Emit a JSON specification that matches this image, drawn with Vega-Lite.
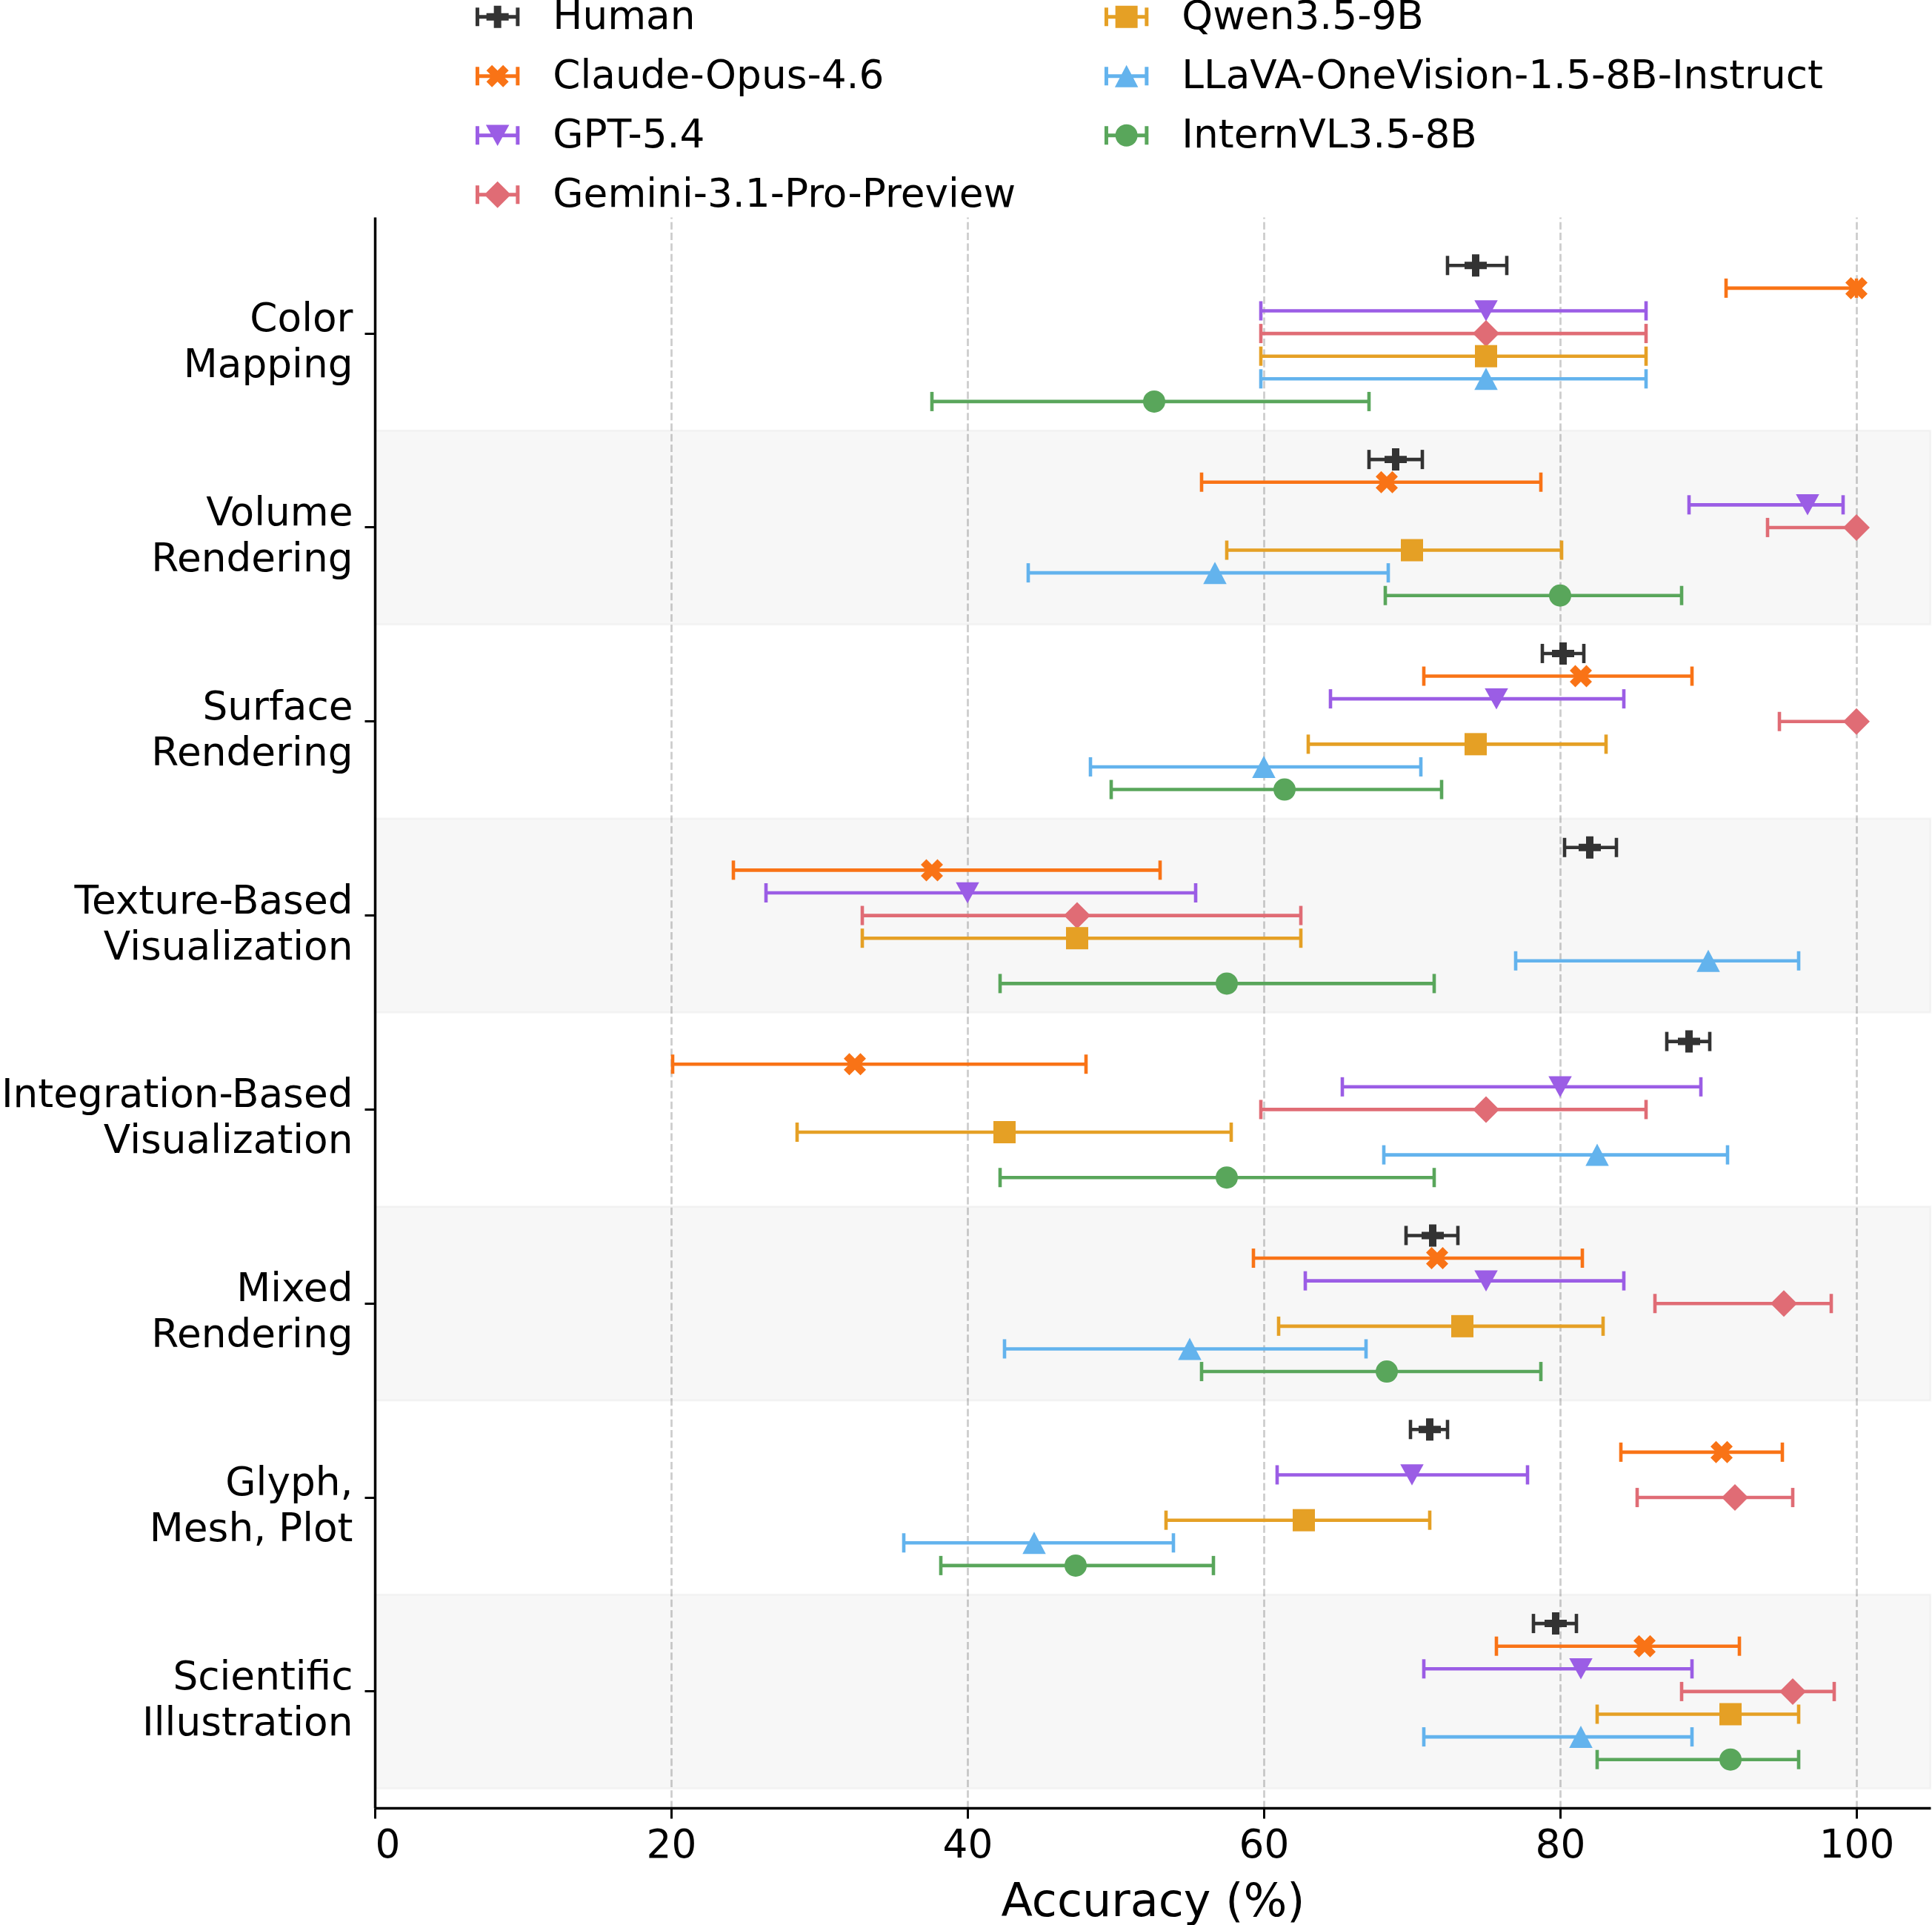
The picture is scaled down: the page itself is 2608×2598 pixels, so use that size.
{
  "$schema": "https://vega.github.io/schema/vega-lite/v6.json",
  "autosize": {"type": "none"},
  "width": 2100,
  "height": 2147,
  "padding": {"left": 506, "top": 293, "right": 2, "bottom": 158},
  "background": "white",
  "datasets": {
    "bands": [
      {"cat": "Volume Rendering"},
      {"cat": "Texture-Based Visualization"},
      {"cat": "Mixed Rendering"},
      {"cat": "Scientific Illustration"}
    ],
    "acc": [
      {"cat": "Color Mapping", "model": "Human", "acc": 74.3, "lo": 72.4, "hi": 76.4},
      {"cat": "Color Mapping", "model": "Claude-Opus-4.6", "acc": 100, "lo": 91.2, "hi": 100},
      {"cat": "Color Mapping", "model": "GPT-5.4", "acc": 75, "lo": 59.8, "hi": 85.8},
      {"cat": "Color Mapping", "model": "Gemini-3.1-Pro-Preview", "acc": 75, "lo": 59.8, "hi": 85.8},
      {"cat": "Color Mapping", "model": "Qwen3.5-9B", "acc": 75, "lo": 59.8, "hi": 85.8},
      {"cat": "Color Mapping", "model": "LLaVA-OneVision-1.5-8B-Instruct", "acc": 75, "lo": 59.8, "hi": 85.8},
      {"cat": "Color Mapping", "model": "InternVL3.5-8B", "acc": 52.6, "lo": 37.6, "hi": 67.1},
      {"cat": "Volume Rendering", "model": "Human", "acc": 68.9, "lo": 67.1, "hi": 70.7},
      {"cat": "Volume Rendering", "model": "Claude-Opus-4.6", "acc": 68.3, "lo": 55.8, "hi": 78.7},
      {"cat": "Volume Rendering", "model": "GPT-5.4", "acc": 96.7, "lo": 88.7, "hi": 99.1},
      {"cat": "Volume Rendering", "model": "Gemini-3.1-Pro-Preview", "acc": 100, "lo": 94.0, "hi": 100},
      {"cat": "Volume Rendering", "model": "Qwen3.5-9B", "acc": 70.0, "lo": 57.5, "hi": 80.1},
      {"cat": "Volume Rendering", "model": "LLaVA-OneVision-1.5-8B-Instruct", "acc": 56.7, "lo": 44.1, "hi": 68.4},
      {"cat": "Volume Rendering", "model": "InternVL3.5-8B", "acc": 80.0, "lo": 68.2, "hi": 88.2},
      {"cat": "Surface Rendering", "model": "Human", "acc": 80.2, "lo": 78.8, "hi": 81.6},
      {"cat": "Surface Rendering", "model": "Claude-Opus-4.6", "acc": 81.4, "lo": 70.8, "hi": 88.9},
      {"cat": "Surface Rendering", "model": "GPT-5.4", "acc": 75.7, "lo": 64.5, "hi": 84.3},
      {"cat": "Surface Rendering", "model": "Gemini-3.1-Pro-Preview", "acc": 100, "lo": 94.8, "hi": 100},
      {"cat": "Surface Rendering", "model": "Qwen3.5-9B", "acc": 74.3, "lo": 63.0, "hi": 83.1},
      {"cat": "Surface Rendering", "model": "LLaVA-OneVision-1.5-8B-Instruct", "acc": 60.0, "lo": 48.3, "hi": 70.6},
      {"cat": "Surface Rendering", "model": "InternVL3.5-8B", "acc": 61.4, "lo": 49.7, "hi": 72.0},
      {"cat": "Texture-Based Visualization", "model": "Human", "acc": 82.0, "lo": 80.3, "hi": 83.8},
      {"cat": "Texture-Based Visualization", "model": "Claude-Opus-4.6", "acc": 37.6, "lo": 24.2, "hi": 53.0},
      {"cat": "Texture-Based Visualization", "model": "GPT-5.4", "acc": 40.0, "lo": 26.4, "hi": 55.4},
      {"cat": "Texture-Based Visualization", "model": "Gemini-3.1-Pro-Preview", "acc": 47.4, "lo": 32.9, "hi": 62.5},
      {"cat": "Texture-Based Visualization", "model": "Qwen3.5-9B", "acc": 47.4, "lo": 32.9, "hi": 62.5},
      {"cat": "Texture-Based Visualization", "model": "LLaVA-OneVision-1.5-8B-Instruct", "acc": 90.0, "lo": 77.0, "hi": 96.1},
      {"cat": "Texture-Based Visualization", "model": "InternVL3.5-8B", "acc": 57.5, "lo": 42.2, "hi": 71.5},
      {"cat": "Integration-Based Visualization", "model": "Human", "acc": 88.7, "lo": 87.2, "hi": 90.1},
      {"cat": "Integration-Based Visualization", "model": "Claude-Opus-4.6", "acc": 32.4, "lo": 20.1, "hi": 48.0},
      {"cat": "Integration-Based Visualization", "model": "GPT-5.4", "acc": 80.0, "lo": 65.3, "hi": 89.5},
      {"cat": "Integration-Based Visualization", "model": "Gemini-3.1-Pro-Preview", "acc": 75.0, "lo": 59.8, "hi": 85.8},
      {"cat": "Integration-Based Visualization", "model": "Qwen3.5-9B", "acc": 42.5, "lo": 28.5, "hi": 57.8},
      {"cat": "Integration-Based Visualization", "model": "LLaVA-OneVision-1.5-8B-Instruct", "acc": 82.5, "lo": 68.1, "hi": 91.3},
      {"cat": "Integration-Based Visualization", "model": "InternVL3.5-8B", "acc": 57.5, "lo": 42.2, "hi": 71.5},
      {"cat": "Mixed Rendering", "model": "Human", "acc": 71.4, "lo": 69.6, "hi": 73.1},
      {"cat": "Mixed Rendering", "model": "Claude-Opus-4.6", "acc": 71.7, "lo": 59.3, "hi": 81.5},
      {"cat": "Mixed Rendering", "model": "GPT-5.4", "acc": 75.0, "lo": 62.8, "hi": 84.3},
      {"cat": "Mixed Rendering", "model": "Gemini-3.1-Pro-Preview", "acc": 95.1, "lo": 86.4, "hi": 98.3},
      {"cat": "Mixed Rendering", "model": "Qwen3.5-9B", "acc": 73.4, "lo": 61.0, "hi": 82.9},
      {"cat": "Mixed Rendering", "model": "LLaVA-OneVision-1.5-8B-Instruct", "acc": 55.0, "lo": 42.5, "hi": 66.9},
      {"cat": "Mixed Rendering", "model": "InternVL3.5-8B", "acc": 68.3, "lo": 55.8, "hi": 78.7},
      {"cat": "Glyph, Mesh, Plot", "model": "Human", "acc": 71.2, "lo": 69.9, "hi": 72.4},
      {"cat": "Glyph, Mesh, Plot", "model": "Claude-Opus-4.6", "acc": 90.9, "lo": 84.1, "hi": 95.0},
      {"cat": "Glyph, Mesh, Plot", "model": "GPT-5.4", "acc": 70.0, "lo": 60.9, "hi": 77.8},
      {"cat": "Glyph, Mesh, Plot", "model": "Gemini-3.1-Pro-Preview", "acc": 91.8, "lo": 85.2, "hi": 95.7},
      {"cat": "Glyph, Mesh, Plot", "model": "Qwen3.5-9B", "acc": 62.7, "lo": 53.4, "hi": 71.2},
      {"cat": "Glyph, Mesh, Plot", "model": "LLaVA-OneVision-1.5-8B-Instruct", "acc": 44.5, "lo": 35.7, "hi": 53.9},
      {"cat": "Glyph, Mesh, Plot", "model": "InternVL3.5-8B", "acc": 47.3, "lo": 38.2, "hi": 56.6},
      {"cat": "Scientific Illustration", "model": "Human", "acc": 79.7, "lo": 78.2, "hi": 81.1},
      {"cat": "Scientific Illustration", "model": "Claude-Opus-4.6", "acc": 85.7, "lo": 75.7, "hi": 92.1},
      {"cat": "Scientific Illustration", "model": "GPT-5.4", "acc": 81.4, "lo": 70.8, "hi": 88.9},
      {"cat": "Scientific Illustration", "model": "Gemini-3.1-Pro-Preview", "acc": 95.7, "lo": 88.2, "hi": 98.5},
      {"cat": "Scientific Illustration", "model": "Qwen3.5-9B", "acc": 91.5, "lo": 82.5, "hi": 96.1},
      {"cat": "Scientific Illustration", "model": "LLaVA-OneVision-1.5-8B-Instruct", "acc": 81.4, "lo": 70.8, "hi": 88.9},
      {"cat": "Scientific Illustration", "model": "InternVL3.5-8B", "acc": 91.5, "lo": 82.5, "hi": 96.1}
    ]
  },
  "data": {"name": "acc"},
  "encoding": {
    "y": {
      "field": "cat", "type": "nominal", "title": null,
      "scale": {
        "domain": ["Color Mapping", "Volume Rendering", "Surface Rendering", "Texture-Based Visualization", "Integration-Based Visualization", "Mixed Rendering", "Glyph, Mesh, Plot", "Scientific Illustration"],
        "paddingInner": 0, "paddingOuter": 0.1
      },
      "axis": {
        "labelExpr": "datum.label === 'Glyph, Mesh, Plot' ? ['Glyph,', 'Mesh, Plot'] : split(datum.label, ' ')"
      }
    },
    "yOffset": {"field": "model", "type": "nominal",
      "scale": {"domain": ["Human", "Claude-Opus-4.6", "GPT-5.4", "Gemini-3.1-Pro-Preview", "Qwen3.5-9B", "LLaVA-OneVision-1.5-8B-Instruct", "InternVL3.5-8B"], "paddingInner": 0, "paddingOuter": 0.778}}
  },
  "layer": [
    {
      "data": {"name": "bands"},
      "mark": {"type": "rect", "fill": "black", "fillOpacity": 0.031, "stroke": "black", "strokeOpacity": 0.03, "strokeWidth": 2.7},
      "encoding": {
        "x": {"datum": 0, "type": "quantitative"},
        "x2": {"datum": 105},
        "yOffset": null
      }
    },
    {
      "mark": {"type": "point", "filled": true, "opacity": 0, "size": 900, "strokeWidth": 0},
      "encoding": {
        "x": {"field": "acc", "type": "quantitative", "title": "Accuracy (%)",
              "scale": {"domain": [0, 105], "nice": false, "zero": false},
              "axis": {"values": [0, 20, 40, 60, 80, 100]}},
        "color": {
          "field": "model", "type": "nominal",
          "scale": {
            "domain": ["Human", "Claude-Opus-4.6", "GPT-5.4", "Gemini-3.1-Pro-Preview", "Qwen3.5-9B", "LLaVA-OneVision-1.5-8B-Instruct", "InternVL3.5-8B"],
            "range": ["#333333", "#F97316", "#9B5DE5", "#E06C75", "#E5A025", "#63B3ED", "#59A65B"]
          },
          "legend": {
            "title": null,
            "orient": "none",
            "legendX": 139,
            "legendY": -297,
            "columns": 2,
            "padding": 0,
            "symbolSize": 900,
            "symbolStrokeWidth": 0,
            "symbolOpacity": 1,
            "labelFont": "DejaVu Sans",
            "labelFontSize": 53.3,
            "labelColor": "#000000",
            "labelOffset": 48,
            "labelLimit": 3000,
            "columnPadding": 118,
            "rowPadding": 26
          }
        },
        "shape": {
          "field": "model", "type": "nominal",
          "scale": {
            "domain": ["Human", "Claude-Opus-4.6", "GPT-5.4", "Gemini-3.1-Pro-Preview", "Qwen3.5-9B", "LLaVA-OneVision-1.5-8B-Instruct", "InternVL3.5-8B"],
            "range": [
              "M-1.813,-0.167H1.813V0.167H-1.813ZM-1.98,-0.833H-1.647V0.833H-1.98ZM1.647,-0.833H1.98V0.833H1.647ZM-0.333,-1H0.333V-0.333H1V0.333H0.333V1H-0.333V0.333H-1V-0.333H-0.333Z",
              "M-1.813,-0.167H1.813V0.167H-1.813ZM-1.98,-0.833H-1.647V0.833H-1.98ZM1.647,-0.833H1.98V0.833H1.647ZM-0.5,-1L0,-0.5L0.5,-1L1,-0.5L0.5,0L1,0.5L0.5,1L0,0.5L-0.5,1L-1,0.5L-0.5,0L-1,-0.5Z",
              "M-1.813,-0.167H1.813V0.167H-1.813ZM-1.98,-0.833H-1.647V0.833H-1.98ZM1.647,-0.833H1.98V0.833H1.647ZM-1.05,-0.95L1.05,-0.95L0,0.95Z",
              "M-1.813,-0.167H1.813V0.167H-1.813ZM-1.98,-0.833H-1.647V0.833H-1.98ZM1.647,-0.833H1.98V0.833H1.647ZM-1.2,0L0,-1.2L1.2,0L0,1.2Z",
              "M-1.813,-0.167H1.813V0.167H-1.813ZM-1.98,-0.833H-1.647V0.833H-1.98ZM1.647,-0.833H1.98V0.833H1.647ZM-1,-1H1V1H-1Z",
              "M-1.813,-0.167H1.813V0.167H-1.813ZM-1.98,-0.833H-1.647V0.833H-1.98ZM1.647,-0.833H1.98V0.833H1.647ZM0,-1L1.05,1L-1.05,1Z",
              "M-1.813,-0.167H1.813V0.167H-1.813ZM-1.98,-0.833H-1.647V0.833H-1.98ZM1.647,-0.833H1.98V0.833H1.647ZM1,0A1,1,0,1,1,-1,0A1,1,0,1,1,1,0Z"
            ]
          },
          "legend": {"title": null}
        }
      }
    },
    {
      "mark": {"type": "rule", "strokeWidth": 4.6, "opacity": 1},
      "encoding": {
        "x": {"field": "lo", "type": "quantitative"},
        "x2": {"field": "hi"},
        "color": {"field": "model", "type": "nominal"}
      }
    },
    {
      "mark": {"type": "tick", "thickness": 4.6, "size": 26, "opacity": 1},
      "encoding": {
        "x": {"field": "lo", "type": "quantitative"},
        "color": {"field": "model", "type": "nominal"}
      }
    },
    {
      "mark": {"type": "tick", "thickness": 4.6, "size": 26, "opacity": 1},
      "encoding": {
        "x": {"field": "hi", "type": "quantitative"},
        "color": {"field": "model", "type": "nominal"}
      }
    },
    {
      "transform": [{"filter": {"field": "model", "equal": "Human"}}],
      "mark": {"type": "point", "filled": true, "opacity": 1, "size": 900, "strokeWidth": 0, "shape": "M-0.333,-1H0.333V-0.333H1V0.333H0.333V1H-0.333V0.333H-1V-0.333H-0.333Z"},
      "encoding": {"x": {"field": "acc", "type": "quantitative"}, "color": {"field": "model", "type": "nominal"}}
    },
    {
      "transform": [{"filter": {"field": "model", "equal": "Claude-Opus-4.6"}}],
      "mark": {"type": "point", "filled": true, "opacity": 1, "size": 900, "strokeWidth": 0, "shape": "M-0.5,-1L0,-0.5L0.5,-1L1,-0.5L0.5,0L1,0.5L0.5,1L0,0.5L-0.5,1L-1,0.5L-0.5,0L-1,-0.5Z"},
      "encoding": {"x": {"field": "acc", "type": "quantitative"}, "color": {"field": "model", "type": "nominal"}}
    },
    {
      "transform": [{"filter": {"field": "model", "equal": "GPT-5.4"}}],
      "mark": {"type": "point", "filled": true, "opacity": 1, "size": 900, "strokeWidth": 0, "shape": "M-1.05,-0.95L1.05,-0.95L0,0.95Z"},
      "encoding": {"x": {"field": "acc", "type": "quantitative"}, "color": {"field": "model", "type": "nominal"}}
    },
    {
      "transform": [{"filter": {"field": "model", "equal": "Gemini-3.1-Pro-Preview"}}],
      "mark": {"type": "point", "filled": true, "opacity": 1, "size": 900, "strokeWidth": 0, "shape": "M-1.2,0L0,-1.2L1.2,0L0,1.2Z"},
      "encoding": {"x": {"field": "acc", "type": "quantitative"}, "color": {"field": "model", "type": "nominal"}}
    },
    {
      "transform": [{"filter": {"field": "model", "equal": "Qwen3.5-9B"}}],
      "mark": {"type": "point", "filled": true, "opacity": 1, "size": 900, "strokeWidth": 0, "shape": "square"},
      "encoding": {"x": {"field": "acc", "type": "quantitative"}, "color": {"field": "model", "type": "nominal"}}
    },
    {
      "transform": [{"filter": {"field": "model", "equal": "LLaVA-OneVision-1.5-8B-Instruct"}}],
      "mark": {"type": "point", "filled": true, "opacity": 1, "size": 900, "strokeWidth": 0, "shape": "M0,-1L1.05,1L-1.05,1Z"},
      "encoding": {"x": {"field": "acc", "type": "quantitative"}, "color": {"field": "model", "type": "nominal"}}
    },
    {
      "transform": [{"filter": {"field": "model", "equal": "InternVL3.5-8B"}}],
      "mark": {"type": "point", "filled": true, "opacity": 1, "size": 900, "strokeWidth": 0, "shape": "circle"},
      "encoding": {"x": {"field": "acc", "type": "quantitative"}, "color": {"field": "model", "type": "nominal"}}
    }
  ],
  "config": {
    "font": "DejaVu Sans",
    "view": {"stroke": null},
    "axis": {
      "labelFont": "DejaVu Sans", "labelFontSize": 53.3, "labelColor": "#000000",
      "domainColor": "#000000", "domainWidth": 3.5,
      "tickColor": "#000000", "tickWidth": 3, "tickSize": 14,
      "titleFont": "DejaVu Sans", "titleFontSize": 62, "titleFontWeight": "normal", "titleColor": "#000000"
    },
    "axisX": {"grid": true, "gridColor": "#cccccc", "gridDash": [10, 4.3], "gridWidth": 2.7, "labelPadding": 10, "titlePadding": 20},
    "axisY": {"grid": false, "labelPadding": 16, "labelLineHeight": 62, "labelOffset": -19, "labelLimit": 0}
  }
}
